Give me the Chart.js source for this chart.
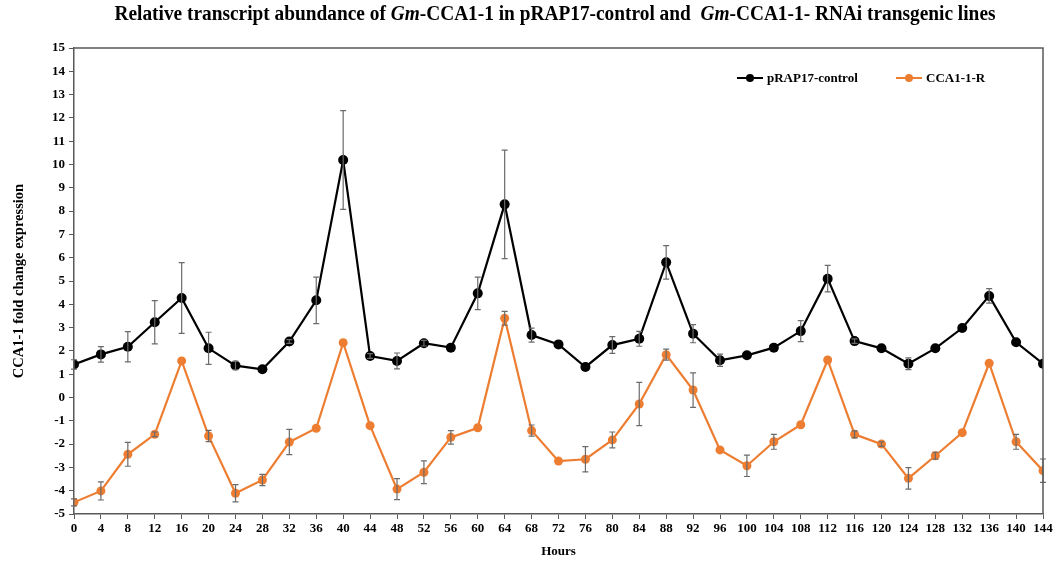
<!DOCTYPE html>
<html>
<head>
<meta charset="utf-8">
<script src="https://cdn.jsdelivr.net/npm/chart.js@4"></script>
<style>
html,body{margin:0;padding:0;background:#fff;}
#wrap{width:1055px;height:561px;}
</style>
</head>
<body>
<div id="wrap"><canvas id="c" width="1055" height="561"></canvas></div>
<script>
const hours = [0,4,8,12,16,20,24,28,32,36,40,44,48,52,56,60,64,68,72,76,80,84,88,92,96,100,104,108,112,116,120,124,128,132,136,140,144];
const controlValues = [1.42,1.85,2.18,3.23,4.27,2.11,1.37,1.21,2.40,4.17,10.19,1.78,1.57,2.33,2.14,4.47,8.29,2.68,2.28,1.31,2.25,2.52,5.80,2.74,1.60,1.81,2.14,2.85,5.10,2.42,2.11,1.45,2.11,2.98,4.36,2.37,1.45];
const controlErrors = [0.20,0.33,0.65,0.93,1.52,0.69,0.18,0.05,0.08,1.00,2.12,0.10,0.34,0.12,0.05,0.70,2.33,0.30,0.05,0.05,0.36,0.32,0.72,0.39,0.26,0.05,0.05,0.45,0.57,0.10,0.05,0.25,0.05,0.05,0.31,0.05,0.05];
const rnaiValues = [-4.50,-4.01,-2.44,-1.58,1.57,-1.65,-4.11,-3.54,-1.91,-1.32,2.35,-1.21,-3.93,-3.21,-1.71,-1.30,3.40,-1.42,-2.73,-2.65,-1.82,-0.28,1.84,0.32,-2.25,-2.93,-1.90,-1.17,1.61,-1.58,-2.00,-3.47,-2.50,-1.51,1.47,-1.90,-3.14];
const rnaiErrors = [0.15,0.39,0.51,0.10,0.05,0.24,0.37,0.24,0.54,0.05,0.05,0.05,0.45,0.49,0.29,0.05,0.30,0.24,0.05,0.54,0.34,0.93,0.24,0.74,0.05,0.46,0.32,0.05,0.05,0.15,0.10,0.46,0.15,0.05,0.05,0.32,0.50];
const seriesNames = ['pRAP17-control','CCA1-1-R'];
const xTicks = hours;
const yMin = -5, yMax = 15;

const SERIF = '"Liberation Serif", "Times New Roman", serif';
const COLORS = ['#000000', '#ED7D31'];
const errs = [controlErrors, rnaiErrors];

const errorBarPlugin = {
  id: 'errorBars',
  afterDatasetsDraw(chart) {
    const ctx = chart.ctx, xs = chart.scales.x, ys = chart.scales.y;
    ctx.save();
    ctx.strokeStyle = '#6b6b6b';
    ctx.lineWidth = 1.2;
    chart.data.datasets.forEach((ds, i) => {
      ds.data.forEach((p, j) => {
        const e = errs[i][j];
        if (!e || e < 0.08) return;
        const x = xs.getPixelForValue(p.x);
        const y1 = ys.getPixelForValue(p.y + e);
        const y2 = ys.getPixelForValue(p.y - e);
        ctx.beginPath();
        ctx.moveTo(x, y1); ctx.lineTo(x, y2);
        ctx.moveTo(x - 3, y1); ctx.lineTo(x + 3, y1);
        ctx.moveTo(x - 3, y2); ctx.lineTo(x + 3, y2);
        ctx.stroke();
      });
    });
    ctx.restore();
  }
};

const framePlugin = {
  id: 'frame',
  afterDraw(chart) {
    const ctx = chart.ctx, a = chart.chartArea;
    ctx.save();
    ctx.strokeStyle = '#595959';
    ctx.lineWidth = 1.5;
    ctx.beginPath();
    ctx.moveTo(a.left, a.top); ctx.lineTo(a.right, a.top); ctx.lineTo(a.right, a.bottom);
    ctx.stroke();
    // title with italic parts
    const parts = [
      ['Relative transcript abundance of ', false],
      ['Gm', true],
      ['-CCA1-1 in pRAP17-control and  ', false],
      ['Gm', true],
      ['-CCA1-1- RNAi transgenic lines', false]
    ];
    const size = 20;
    let total = 0;
    parts.forEach(p => { ctx.font = (p[1] ? 'italic ' : '') + 'bold ' + size + 'px ' + SERIF; total += ctx.measureText(p[0]).width; });
    const targetW = 881;
    const sx = targetW / total;
    ctx.save();
    ctx.translate(555 - targetW / 2, 15);
    ctx.scale(sx, 1);
    let x = 0;
    ctx.fillStyle = '#000';
    ctx.textBaseline = 'middle';
    parts.forEach(p => { ctx.font = (p[1] ? 'italic ' : '') + 'bold ' + size + 'px ' + SERIF; ctx.fillText(p[0], x, 0); x += ctx.measureText(p[0]).width; });
    ctx.restore();
    // legend
    const items = [[seriesNames[0], COLORS[0], 737], [seriesNames[1], COLORS[1], 896]];
    ctx.font = 'bold 13px ' + SERIF;
    ctx.textBaseline = 'middle';
    items.forEach(it => {
      const y = 78;
      ctx.strokeStyle = it[1]; ctx.lineWidth = 2;
      ctx.beginPath(); ctx.moveTo(it[2], y); ctx.lineTo(it[2] + 26, y); ctx.stroke();
      ctx.fillStyle = it[1];
      ctx.beginPath(); ctx.arc(it[2] + 13, y, 4, 0, Math.PI * 2); ctx.fill();
      ctx.fillStyle = '#000';
      ctx.fillText(it[0], it[2] + 30, y + 1);
    });
    ctx.restore();
  }
};

const mkData = (vals) => hours.map((h, i) => ({x: h, y: vals[i]}));

new Chart(document.getElementById('c'), {
  type: 'line',
  data: {
    datasets: [
      {label: seriesNames[0], data: mkData(controlValues), borderColor: COLORS[0], backgroundColor: COLORS[0], borderWidth: 2.2, pointRadius: 5, pointBorderWidth: 0, tension: 0},
      {label: seriesNames[1], data: mkData(rnaiValues), borderColor: COLORS[1], backgroundColor: COLORS[1], borderWidth: 2.2, pointRadius: 4.5, pointBorderWidth: 0, tension: 0}
    ]
  },
  options: {
    responsive: false,
    animation: false,
    layout: {padding: {top: 48, right: 12, left: 0, bottom: 0}},
    plugins: {legend: {display: false}, title: {display: false}, tooltip: {enabled: false}},
    scales: {
      x: {
        type: 'linear', min: 0, max: 144,
        afterBuildTicks: (s) => { s.ticks = xTicks.map(v => ({value: v})); },
        afterFit: (s) => { s.height = 47; },
        border: {color: '#595959', width: 1.5},
        grid: {drawOnChartArea: false, drawTicks: true, tickLength: 5, color: '#595959'},
        ticks: {color: '#000', font: {family: SERIF, size: 13, weight: 'bold'}, padding: 2, maxRotation: 0, autoSkip: false},
        title: {display: true, text: 'Hours', color: '#000', font: {family: SERIF, size: 13, weight: 'bold'}, padding: {top: 0, bottom: 2}}
      },
      y: {
        min: yMin, max: yMax,
        afterFit: (s) => { s.width = 74; },
        border: {color: '#595959', width: 1.5},
        grid: {drawOnChartArea: false, drawTicks: true, tickLength: 5, color: '#595959'},
        ticks: {stepSize: 1, color: '#000', font: {family: SERIF, size: 13, weight: 'bold'}, padding: 4},
        title: {display: true, text: 'CCA1-1 fold change expression', color: '#000', font: {family: SERIF, size: 14.5, weight: 'bold'}, padding: {top: 11, bottom: 0}}
      }
    }
  },
  plugins: [errorBarPlugin, framePlugin]
});
</script>
</body>
</html>
